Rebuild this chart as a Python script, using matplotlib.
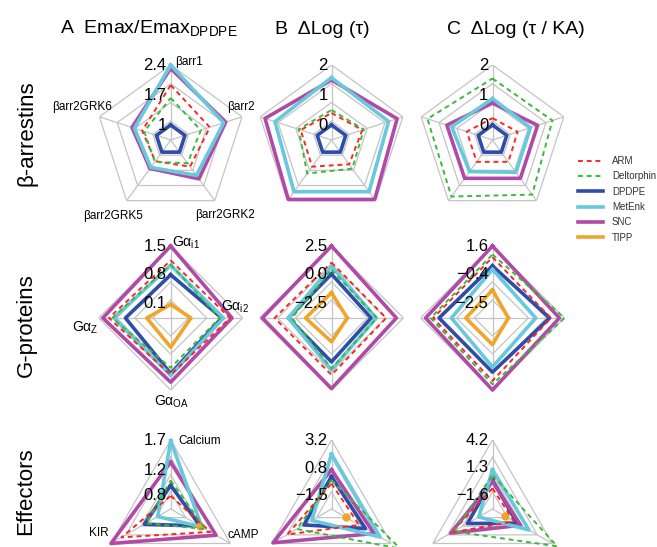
import numpy as np
import matplotlib.pyplot as plt
from matplotlib.lines import Line2D

plt.rcParams['font.family'] = ['Liberation Sans', 'DejaVu Sans']
plt.rcParams['mathtext.fontset'] = 'custom'
plt.rcParams['mathtext.rm'] = 'Liberation Sans'

W, H = 657, 547
nan = np.nan

# agonists, in legend order
agonists = ['ARM', 'Deltorphin', 'DPDPE', 'MetEnk', 'SNC', 'TIPP']
colors = ['#ff2424', '#3cb83c', '#2e4da6', '#68c8dc', '#b04aa6', '#f0a52a']

# readouts (clockwise from the top)
barr_axes = ['βarr1', 'βarr2', 'βarr2GRK2', 'βarr2GRK5', 'βarr2GRK6']
gprot_axes = [r'Gα$_{\mathrm{i1}}$', r'Gα$_{\mathrm{i2}}$', r'Gα$_{\mathrm{OA}}$', r'Gα$_{\mathrm{Z}}$']
eff_axes = ['Calcium', 'cAMP', 'KIR']

# radial tick labels (top, middle, low)
ticks_emax_barr = ['2.4', '1.7', '1']
ticks_tau_barr = ['2', '1', '0']
ticks_tauka_barr = ['2', '1', '0']
ticks_emax_gprot = ['1.5', '0.8', '0.1']
ticks_tau_gprot = ['2.5', '0.0', '\u22122.5']
ticks_tauka_gprot = ['1.6', '\u22120.4', '\u22122.5']
ticks_emax_eff = ['1.7', '1.2', '0.8']
ticks_tau_eff = ['3.2', '0.8', '\u22121.5']
ticks_tauka_eff = ['4.2', '1.3', '\u22121.6']

# values per agonist: ARM, Deltorphin, DPDPE, MetEnk, SNC, TIPP
emax_barr = [[1.93, 1.61, 1.42, 1.26, 1.35],
             [1.63, 1.39, 1.32, 1.28, 1.30],
             [1.0, 1.0, 1.0, 1.0, 1.0],
             [2.40, 1.95, 1.67, 1.44, 1.54],
             [2.32, 2.00, 1.77, 1.47, 1.60],
             None]
tau_barr = [[0.4, 0.58, 0.5, 0.6, 0.58],
            [0.5, 0.63, 0.68, 0.88, 0.65],
            [0.0, 0.0, 0.0, 0.0, 0.0],
            [1.58, 1.5, 1.63, 1.63, 1.48],
            [1.5, 1.8, 1.95, 1.95, 1.83],
            None]
tauka_barr = [[0.23, 0.38, 0.4, 0.4, 0.4],
              [1.55, 1.6, 1.75, 1.83, 1.78],
              [0.0, 0.0, 0.0, 0.0, 0.0],
              [0.88, 0.83, 0.83, 0.8, 0.93],
              [0.73, 1.08, 1.08, 1.08, 1.1],
              None]

emax_gprot = [[1.15, 1.19, 1.13, 1.25],
              [1.05, 0.94, 0.96, 1.17],
              [0.8, 0.99, 1.1, 0.85],
              [1.03, 1.03, 1.15, 1.13],
              [1.5, 1.24, 1.31, 1.40],
              [0.08, 0.24, 0.46, 0.33]]
tau_gprot = [[1.06, 1.0, 1.19, 1.19],
             [0.44, 0.19, 0.63, -0.31],
             [0.06, -0.31, 0.06, 0.0],
             [0.75, 0.13, 0.75, 0.0],
             [2.5, 1.88, 2.38, 2.25],
             [-1.56, -2.38, -1.69, -1.5]]
tauka_gprot = [[0.8, 0.63, 0.95, 0.7],
               [1.0, 1.6, 1.19, 0.88],
               [0.18, 0.54, 0.33, 0.28],
               [-0.07, -0.45, -0.04, -0.6],
               [1.6, 1.24, 1.6, 1.24],
               [-1.53, -2.4, -1.63, -1.63]]

emax_eff = [[0.79, 1.32, 1.5],
            [1.04, 1.23, 1.04],
            [0.96, 1.13, 1.07],
            [1.69, 1.16, 0.82],
            [1.34, 1.43, 1.7],
            [nan, 1.13, nan]]
tau_eff = [[-0.5, 0.03, 1.67],
           [-0.21, 4.08, 0.73],
           [0.09, 0.67, 0.03],
           [2.0, 2.1, -0.74],
           [0.67, 1.5, 3.08],
           [nan, -1.27, nan]]
tauka_eff = [[-0.88, -0.44, 1.88],
             [0.5, 4.78, 1.66],
             [0.0, -0.08, 0.0],
             [1.08, 1.37, -1.38],
             [-0.15, 0.36, 2.03],
             [nan, -1.53, nan]]

# label offsets (pixels) from each outer vertex, column A only
barr_offsets = [(18, 3), (-1, 10), (10, -14), (-14, -15), (-17, 10)]
gprot_offsets = [(15, 3), (-8, 11), (1, -12), (-13, -10)]
eff_offsets = [(29, -1), (13, 8), (-12, 11)]


def to_float(s):
    return float(s.replace('\u2212', '-'))


def radar(cx, cy, R, cats, tick_labels, data, offsets=None, catsize=8.5):
    """one radar panel centred at pixel (cx, cy) with radius R"""
    ax = fig.add_axes([(cx - R) / W, 1 - (cy + R) / H, 2 * R / W, 2 * R / H],
                      projection='polar')
    ax.set_theta_zero_location('N')
    ax.set_theta_direction(-1)
    n = len(cats)
    theta = np.arange(n) * 2 * np.pi / n
    tc = np.append(theta, theta[0])

    top = to_float(tick_labels[0])
    low = to_float(tick_labels[-1])
    vc = low - 0.25 * (top - low)
    ax.set_ylim(vc, top)
    ax.axis('off')

    # grid rings + spokes
    for f in [0.25, 0.5, 0.75, 1.0]:
        lev = vc + f * (top - vc)
        ax.plot(tc, [lev] * (n + 1), color='#c4c4c4', lw=0.9, zorder=1)
    for t in theta:
        ax.plot([t, t], [vc, top], color='#c4c4c4', lw=0.9, zorder=1)

    # series: solid first, dashed on top
    for i in [2, 4, 3, 5, 0, 1]:
        vals = data[i]
        if vals is None:
            continue
        v = np.append(vals, vals[0])
        if i < 2:
            ax.plot(tc, v, color=colors[i], lw=1.4, ls=(0, (2.5, 2)),
                    clip_on=False, zorder=4)
        elif np.isnan(vals).any():
            ax.plot(tc, v, color=colors[i], lw=2.5, marker='o', ms=5,
                    clip_on=False, zorder=3)
        else:
            ax.plot(tc, v, color=colors[i], lw=2.6, clip_on=False, zorder=3)

    # radial tick labels on the top spoke
    for lab in tick_labels:
        ax.annotate(lab, xy=(0, to_float(lab)), xytext=(-4, 0),
                    textcoords='offset pixels', ha='right', va='center',
                    fontsize=12, annotation_clip=False, zorder=5)

    if offsets is not None:
        for t, c, (dx, dy) in zip(theta, cats, offsets):
            ax.annotate(c, xy=(t, top), xytext=(dx, dy),
                        textcoords='offset pixels', ha='center', va='center',
                        fontsize=catsize, annotation_clip=False)
    return ax


fig = plt.figure(figsize=(W / 100, H / 100), dpi=100)

cols = [170.7, 331.5, 492.5]
radar(cols[0], 140, 75, barr_axes, ticks_emax_barr, emax_barr, barr_offsets)
radar(cols[1], 140, 75, barr_axes, ticks_tau_barr, tau_barr)
radar(cols[2], 140, 75, barr_axes, ticks_tauka_barr, tauka_barr)

radar(cols[0], 318, 72, gprot_axes, ticks_emax_gprot, emax_gprot, gprot_offsets,
      catsize=10)
radar(cols[1], 318, 72, gprot_axes, ticks_tau_gprot, tau_gprot)
radar(cols[2], 318, 72, gprot_axes, ticks_tauka_gprot, tauka_gprot)

radar(cols[0], 509, 69, eff_axes, ticks_emax_eff, emax_eff, eff_offsets)
radar(cols[1], 509, 69, eff_axes, ticks_tau_eff, tau_eff)
radar(cols[2], 509, 69, eff_axes, ticks_tauka_eff, tauka_eff)

# column titles
fig.text(60 / W, 1 - 29 / H, r'A  Emax/Emax$_{\mathrm{DPDPE}}$', fontsize=14,
         ha='left', va='center')
fig.text(275 / W, 1 - 29 / H, 'B  \u0394Log (\u03c4)', fontsize=14,
         ha='left', va='center')
fig.text(447 / W, 1 - 29 / H, 'C  \u0394Log (\u03c4 / KA)', fontsize=14,
         ha='left', va='center')

# row titles
fig.text(27 / W, 1 - 133 / H, 'β-arrestins', fontsize=16, rotation=90,
         ha='center', va='center')
fig.text(26 / W, 1 - 325 / H, 'G-proteins', fontsize=16, rotation=90,
         ha='center', va='center')
fig.text(26 / W, 1 - 491 / H, 'Effectors', fontsize=16, rotation=90,
         ha='center', va='center')

# legend
handles = []
for i, name in enumerate(agonists):
    if i < 2:
        handles.append(Line2D([], [], color=colors[i], lw=1.4, ls=(0, (2.5, 2)), label=name))
    else:
        handles.append(Line2D([], [], color=colors[i], lw=2.6, label=name))
fig.legend(handles=handles, loc='upper left', bbox_to_anchor=(578 / W, 1 - 156 / H),
           frameon=False, fontsize=7, handlelength=2.6, handletextpad=0.9,
           labelspacing=0.55, borderpad=0, borderaxespad=0, labelcolor='#333333')

fig.savefig('out.png', dpi=100)
